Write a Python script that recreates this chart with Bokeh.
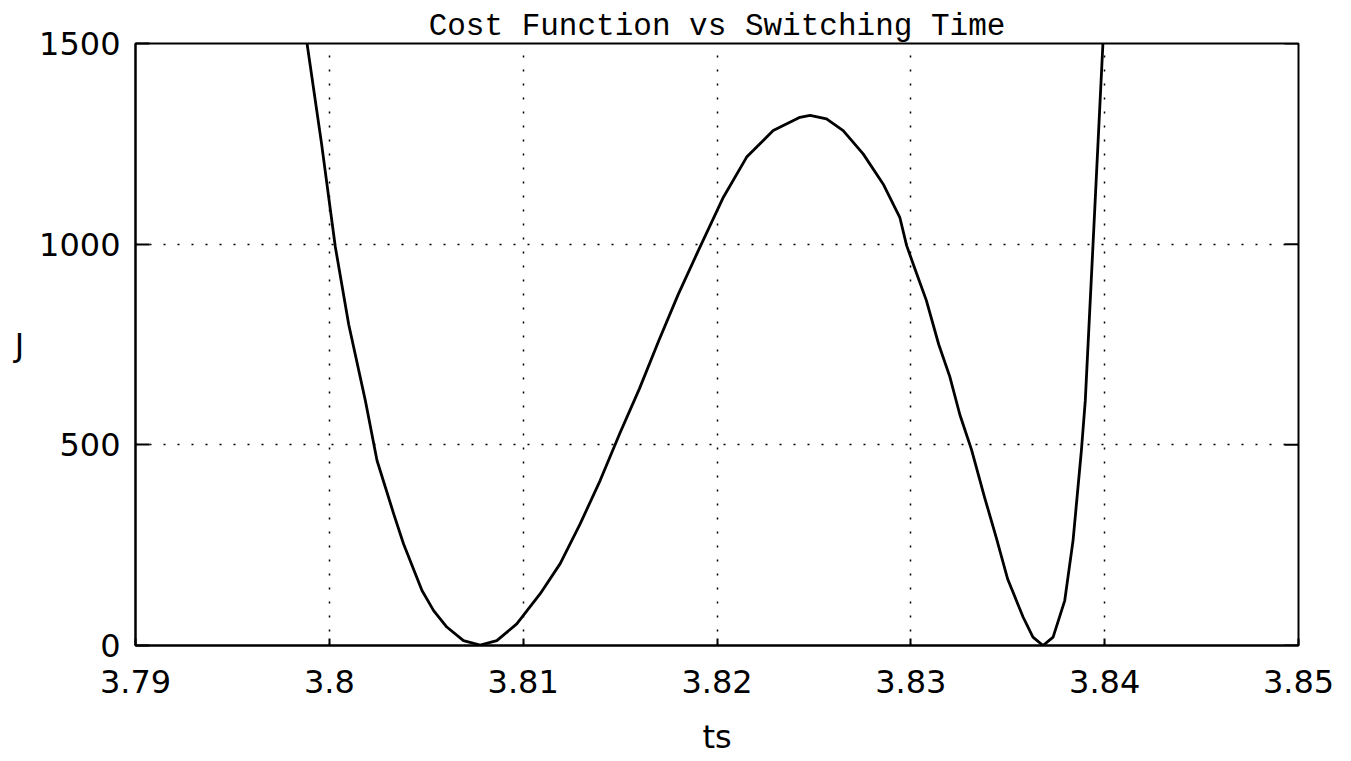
from bokeh.plotting import figure
from bokeh.models import Range1d, FixedTicker, Title
from bokeh.embed import file_html
from bokeh.resources import INLINE

# ---- data ----
ts = [3.79885, 3.79960, 3.80031, 3.80100, 3.80186, 3.80246, 3.80332, 3.80383,
      3.80478, 3.80538, 3.80606, 3.80692, 3.80778, 3.80864, 3.80967, 3.81088,
      3.81191, 3.81294, 3.81397, 3.81500, 3.81600, 3.81700, 3.81800, 3.81900,
      3.82033, 3.82153, 3.82290, 3.82428, 3.82480,
      3.82565, 3.82651, 3.82754, 3.82857, 3.82943, 3.82978, 3.83020, 3.83080,
      3.83144, 3.83201, 3.83253, 3.83313, 3.83380, 3.83440, 3.83500, 3.83579,
      3.83630, 3.83682, 3.83734, 3.83794, 3.83837, 3.83880, 3.83900, 3.83940,
      3.83991]
J = [1500, 1250, 993, 800, 610, 461, 328, 253,
     137, 87, 46, 12, 1, 12, 54, 129,
     204, 303, 411, 530, 640, 760, 875, 980,
     1117, 1217, 1283, 1316, 1321,
     1312, 1283, 1225, 1150, 1067, 997, 940, 860,
     750, 670, 575, 488, 370, 270, 165, 71,
     21, 0, 21, 112, 262, 486, 610, 1000,
     1500]

x_ticks = [3.79, 3.80, 3.81, 3.82, 3.83, 3.84, 3.85]
x_tick_labels = ["3.79", "3.8", "3.81", "3.82", "3.83", "3.84", "3.85"]
y_ticks = [0, 500, 1000, 1500]
y_tick_labels = ["0", "500", "1000", "1500"]

title_text = "Cost Function vs Switching Time"
x_label = "ts"
y_label = "J"

SANS = "DejaVu Sans"
MONO = "Liberation Mono"

X0, X1, Y0, Y1 = 3.79, 3.85, 0, 1500

p = figure(frame_width=1163, frame_height=602,
           min_border_left=135, min_border_right=53,
           min_border_top=43, min_border_bottom=116,
           x_range=Range1d(X0, X1), y_range=Range1d(Y0, Y1),
           output_backend="svg", toolbar_location=None,
           x_axis_label=x_label, y_axis_label=y_label)

p.background_fill_color = "white"
p.border_fill_color = "white"
p.outline_line_color = "black"
p.outline_line_width = 2

t = Title(text=title_text, align="center", text_font=MONO,
          text_font_size="31px", text_font_style="normal",
          text_color="black", standoff=0, offset=0)
p.add_layout(t, "above")
p.title.visible = False

for ax in (p.xaxis[0], p.yaxis[0]):
    ax.major_tick_out = 0
    ax.minor_tick_line_color = None
    ax.major_tick_line_color = "black"
    ax.major_tick_line_width = 2
    ax.axis_line_color = "black"
    ax.axis_line_width = 2
    ax.major_label_text_font = SANS
    ax.major_label_text_font_size = "32px"
    ax.major_label_text_color = "black"
    ax.axis_label_text_font = SANS
    ax.axis_label_text_font_size = "32px"
    ax.axis_label_text_font_style = "normal"
    ax.axis_label_text_color = "black"

p.xaxis[0].ticker = FixedTicker(ticks=x_ticks)
p.xaxis[0].major_label_overrides = dict(zip(x_ticks, x_tick_labels))
p.xaxis[0].major_tick_in = 7
p.xaxis[0].major_label_standoff = 24
p.xaxis[0].axis_label_standoff = 22

p.yaxis[0].ticker = FixedTicker(ticks=y_ticks)
p.yaxis[0].major_label_overrides = dict(zip(y_ticks, y_tick_labels))
p.yaxis[0].major_tick_in = 14
p.yaxis[0].major_label_standoff = 15
p.yaxis[0].axis_label_standoff = 12
p.yaxis[0].axis_label_orientation = "horizontal"

p.xgrid.ticker = FixedTicker(ticks=x_ticks[1:-1])
p.ygrid.ticker = FixedTicker(ticks=y_ticks[1:-1])
for g in (p.xgrid[0], p.ygrid[0]):
    g.grid_line_color = "black"
    g.grid_line_width = 1.5
    g.grid_line_dash = "2 12"
    g.grid_line_alpha = 1.0

# inward ticks on the top and right edges of the frame (clipped halves)
p.scatter(x=x_ticks, y=[Y1] * len(x_ticks), marker="line", size=14,
          line_color="black", line_width=2)
p.scatter(x=[X1] * len(y_ticks), y=y_ticks, marker="dash", size=28,
          line_color="black", line_width=2)

p.line(ts, J, line_color="black", line_width=2.8, line_join="round")

open("out.html", "w").write(file_html(p, INLINE))
